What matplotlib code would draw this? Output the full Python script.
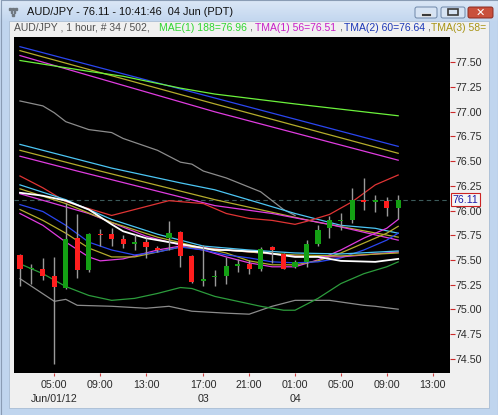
import numpy as np
import matplotlib.pyplot as plt
from matplotlib.patches import Rectangle, FancyBboxPatch
from matplotlib.colors import LinearSegmentedColormap
from matplotlib.transforms import blended_transform_factory

plt.rcParams['font.family'] = ['Liberation Sans', 'DejaVu Sans']

# hourly candles, bar 0 = Jun 01 02:00 (PDT)
opens = [75.55, 75.41, 75.41, 75.34, 75.22, 75.72, 75.40, 75.765, 75.76, 75.71,
         75.665, 75.685, 75.62, 75.72, 75.78, 75.54, 75.29, 75.325, 75.34, 75.445,
         75.455, 75.41, 75.63, 75.56, 75.43, 75.48, 75.66, 75.82, 75.895, 75.90,
         76.11, 76.095, 76.10, 76.03]
highs = [75.56, 75.46, 75.52, 75.53, 76.08, 75.96, 75.77, 75.81, 75.82, 75.75,
         75.76, 75.72, 75.64, 75.89, 75.79, 75.55, 75.65, 75.40, 75.53, 75.51,
         75.50, 75.63, 75.64, 75.57, 75.50, 75.70, 75.85, 75.94, 75.98, 76.225,
         76.33, 76.16, 76.14, 76.16]
lows = [75.24, 75.26, 75.30, 74.45, 75.20, 75.32, 75.38, 75.64, 75.64, 75.62,
        75.60, 75.52, 75.58, 75.60, 75.43, 75.27, 75.24, 75.24, 75.26, 75.38,
        75.36, 75.39, 75.47, 75.405, 75.415, 75.425, 75.64, 75.72, 75.80, 75.87,
        76.01, 75.99, 75.94, 75.91]
closes = [75.41, 75.415, 75.34, 75.23, 75.71, 75.40, 75.76, 75.755, 75.71, 75.66,
          75.675, 75.63, 75.60, 75.77, 75.54, 75.28, 75.30, 75.335, 75.44, 75.455,
          75.41, 75.61, 75.60, 75.41, 75.48, 75.66, 75.80, 75.90, 75.905, 76.11,
          76.09, 76.10, 76.03, 76.11]
last_price = 76.11

# indicator lines (bar index, price)
blue_top_x = [0, 17, 33]
blue_top = [77.66, 77.14, 76.65]
olive_top = [77.62, 77.08, 76.58]
magenta_top = [77.57, 77.00, 76.51]

lime_x = [0, 6, 9, 14, 17, 24, 33]
lime = [77.52, 77.41, 77.36, 77.24, 77.18, 77.08, 76.96]

gray_up_x = [0, 2, 3, 4, 5, 6, 8, 9, 11, 12, 14, 15, 16, 18, 21, 23, 24]
gray_up = [77.11, 77.06, 76.99, 76.90, 76.86, 76.82, 76.79, 76.73, 76.65, 76.61,
           76.49, 76.47, 76.40, 76.33, 76.19, 76.01, 75.95]

gray_low_x = [0, 3, 4, 5, 8, 11, 13, 15, 18, 20, 22, 24, 27, 30, 31, 33]
gray_low = [75.31, 75.08, 75.10, 75.04, 75.03, 75.01, 75.03, 74.98, 74.96, 74.95,
            75.03, 75.09, 75.09, 75.04, 75.03, 75.00]

green_x = [0, 2, 4, 6, 8, 10, 12, 14, 15, 17, 19, 21, 23, 24, 26, 28, 30, 32, 33]
green = [75.46, 75.36, 75.23, 75.14, 75.09, 75.11, 75.16, 75.22, 75.21, 75.13,
         75.08, 75.03, 74.99, 74.99, 75.11, 75.26, 75.36, 75.43, 75.48]

red_x = [0, 2, 4, 8, 10, 12, 13, 14, 16, 18, 20, 22, 24, 25, 27, 29, 31, 33]
red = [76.35, 76.23, 76.09, 75.95, 76.01, 76.07, 76.10, 76.09, 76.07, 75.97,
       75.92, 75.90, 75.86, 75.89, 75.96, 76.09, 76.26, 76.36]

cyan_mid_x = [0, 8, 14, 17, 24, 28, 31, 33]
cyan_mid = [76.67, 76.43, 76.28, 76.21, 75.97, 75.85, 75.82, 75.77]
olive_mid_x = [0, 7, 17, 26, 33]
olive_mid = [76.61, 76.40, 76.11, 75.88, 75.73]
magenta_mid_x = [0, 5, 17, 22, 27, 33]
magenta_mid = [76.55, 76.40, 76.05, 75.97, 75.86, 75.70]

cyan_lo_x = [0, 4, 8, 12, 16, 20, 24, 28, 33]
cyan_lo = [76.26, 76.11, 75.91, 75.76, 75.64, 75.60, 75.57, 75.56, 75.59]
olive_lo2 = [76.22, 76.07, 75.88, 75.73, 75.62, 75.58, 75.55, 75.54, 75.57]

white_x = [0, 2, 4, 6, 8, 9, 11, 13, 15, 17, 18, 21, 24, 26, 28, 31, 33]
white = [76.18, 76.15, 76.10, 76.01, 75.86, 75.79, 75.72, 75.68, 75.64, 75.60,
         75.60, 75.58, 75.53, 75.53, 75.49, 75.48, 75.51]

magenta_lo1_x = [0, 6, 11, 14, 18, 24, 28, 33]
magenta_lo1 = [76.17, 75.97, 75.74, 75.65, 75.60, 75.54, 75.53, 75.58]

lo_x = [0, 2, 4, 6, 8, 10, 12, 14, 16, 18, 20, 22, 24, 26, 28, 30, 32, 33]
blue_lo = [76.06, 75.99, 75.85, 75.68, 75.60, 75.55, 75.58, 75.63, 75.60, 75.55,
           75.52, 75.48, 75.47, 75.48, 75.52, 75.60, 75.70, 75.77]
olive_lo = [76.01, 75.90, 75.77, 75.62, 75.53, 75.53, 75.58, 75.63, 75.62, 75.57,
            75.49, 75.45, 75.45, 75.49, 75.57, 75.67, 75.77, 75.84]
magenta_lo_x = [0, 2, 4, 6, 7, 9, 12, 14, 16, 18, 20, 22, 24, 26, 28, 30, 32, 33]
magenta_lo = [75.97, 75.85, 75.68, 75.53, 75.49, 75.51, 75.60, 75.64, 75.60, 75.53,
              75.47, 75.43, 75.43, 75.50, 75.60, 75.72, 75.82, 75.91]

tick_pos = [3, 7, 11, 16, 20, 24, 28, 32, 36]
tick_time = ['05:00', '09:00', '13:00', '17:00', '21:00', '01:00', '05:00', '09:00', '13:00']
tick_date = ['Jun/01/12', '', '', '03', '', '04', '', '', '']
price_ticks = [74.50, 74.75, 75.00, 75.25, 75.50, 75.75, 76.00, 76.25, 76.50,
               76.75, 77.00, 77.25, 77.50]

BLUE, OLIVE, MAGENTA, CYAN = '#2a46f0', '#b4ac2c', '#e03ce0', '#4cc6f4'
lines = [
    (gray_up_x, gray_up, '#8c8c8c'),
    (gray_low_x, gray_low, '#8c8c8c'),
    (green_x, green, '#2c9c3c'),
    (blue_top_x, blue_top, BLUE),
    (blue_top_x, olive_top, OLIVE),
    (blue_top_x, magenta_top, MAGENTA),
    (lime_x, lime, '#6cf23c'),
    (cyan_mid_x, cyan_mid, CYAN),
    (olive_mid_x, olive_mid, OLIVE),
    (magenta_mid_x, magenta_mid, MAGENTA),
    (red_x, red, '#e03434'),
    (magenta_lo_x, magenta_lo, MAGENTA),
    (lo_x, olive_lo, OLIVE),
    (lo_x, blue_lo, BLUE),
    (magenta_lo1_x, magenta_lo1, MAGENTA),
    (cyan_lo_x, olive_lo2, OLIVE),
    (cyan_lo_x, cyan_lo, CYAN),
]

fig = plt.figure(figsize=(4.98, 4.15), dpi=100, facecolor='#f0f0f0')

# window chrome, in pixel coordinates
bg = fig.add_axes([0, 0, 1, 1])
bg.axis('off')
frame = '#c0d5ee'
grad = LinearSegmentedColormap.from_list('t', ['#dbe7f6', '#c3d7ef'])
bg.imshow(np.linspace(0, 1, 21).reshape(-1, 1), extent=[0, 498, 21, 0],
          cmap=grad, aspect='auto')
bg.add_patch(Rectangle((0, 21), 9, 394, color=frame))
bg.add_patch(Rectangle((489, 21), 9, 394, color=frame))
bg.add_patch(Rectangle((0, 408), 498, 7, color=frame))
bg.add_patch(Rectangle((9, 21), 480, 387, fc='#f0f0f0', ec='#a8bcd4', lw=0.6))
bg.plot([0.5, 0.5, 497.5, 497.5], [415, 0.5, 0.5, 415], color='#8a9cb4', lw=0.8)
for dx, dy in [(0, 0), (3, 0), (6, 0), (1.5, 3), (4.5, 3), (3, 6)]:
    bg.add_patch(Rectangle((9 + dx, 8 + dy), 1.6, 1.6, color='#707880'))
bg.text(27, 12, 'AUD/JPY - 76.11 - 10:41:46  04 Jun (PDT)', fontsize=7.9,
        color='#101010', va='center', ha='left')
for x0, w in [(415, 22), (441, 24)]:
    bg.add_patch(FancyBboxPatch((x0, 7), w, 11, boxstyle='round,pad=0,rounding_size=2',
                                fc='#d6e3f3', ec='#6d86a8', lw=0.7))
bg.add_patch(Rectangle((421, 13.5), 10, 2.5, fc='#3a3a3a', ec='white', lw=0.5))
bg.add_patch(Rectangle((448, 9.5), 10, 6, fc='none', ec='#3a3a3a', lw=1.2))
bg.add_patch(FancyBboxPatch((468, 7), 25, 11, boxstyle='round,pad=0,rounding_size=2',
                            fc='#c9503c', ec='#8a2a20', lw=0.7))
bg.text(480.5, 12.5, '✕', fontsize=8, color='white', ha='center', va='center',
        fontweight='bold', family=['DejaVu Sans'])

info = [(14, 'AUD/JPY , 1 hour, # 34 / 502,', '#505050'),
        (159, 'MAE(1) 188=76.96', '#2fd62f'),
        (249.5, ',', '#505050'),
        (255, 'TMA(1) 56=76.51', '#c81ec8'),
        (339, ',', '#505050'),
        (344, 'TMA(2) 60=76.64', '#1c38b8'),
        (427, ',', '#505050'),
        (431, 'TMA(3) 58=', '#a89414')]
for x0, s, col in info:
    bg.text(x0, 28, s, fontsize=7.5, color=col, va='center', ha='left')
bg.set_xlim(0, 498)
bg.set_ylim(415, 0)

# price chart
ax = fig.add_axes([14 / 498, 42 / 415, 436 / 498, 336 / 415])
ax.set_facecolor('black')
ax.set_xlim(-0.52, 37.52)
ax.set_ylim(74.354, 77.758)
for s in ax.spines.values():
    s.set_visible(False)

for xs, ys, col in lines:
    ax.plot(xs, ys, color=col, lw=0.9, zorder=2)
ax.plot(white_x, white, color='white', lw=1.3, zorder=2.5)
ax.axhline(last_price, color='#3c5a5a', lw=0.8, ls=(0, (4, 3)), zorder=1.5)

o, h, l, c = map(np.array, (opens, highs, lows, closes))
idx = np.arange(len(o))
up = c >= o
body = np.maximum(np.abs(c - o), 0.014)
ax.vlines(idx, l, h, color='#9a9a9a', lw=1, zorder=3)
ax.bar(idx, body, bottom=(o + c) / 2 - body / 2, width=0.45,
       color=np.where(up, '#14a014', '#ff1e1e'), zorder=4)

ax.set_xticks(tick_pos)
ax.set_xticklabels([t + '\n' + d for t, d in zip(tick_time, tick_date)])
for lab in ax.get_xticklabels():
    lab.set_linespacing(1.5)
ax.set_yticks(price_ticks)
ax.set_yticklabels(['%.2f' % p for p in price_ticks])
ax.yaxis.tick_right()
ax.tick_params(axis='y', length=3.5, width=0.8, color='#cc2a2a', pad=0.5,
               labelsize=7.7, labelcolor='#2a2a2a')
ax.tick_params(axis='x', length=2.5, width=0.8, color='#cc4444', pad=2.5,
               labelsize=7.7, labelcolor='#2a2a2a')

ax.text(1.006, last_price, '76.11', transform=blended_transform_factory(ax.transAxes, ax.transData),
        fontsize=7.7, color='#1a1aa8', va='center', ha='left', zorder=6,
        bbox=dict(boxstyle='square,pad=0.12', fc='#f6f6f6', ec='#cc2222', lw=0.8))

fig.savefig('out.png', dpi=100, facecolor=fig.get_facecolor())
